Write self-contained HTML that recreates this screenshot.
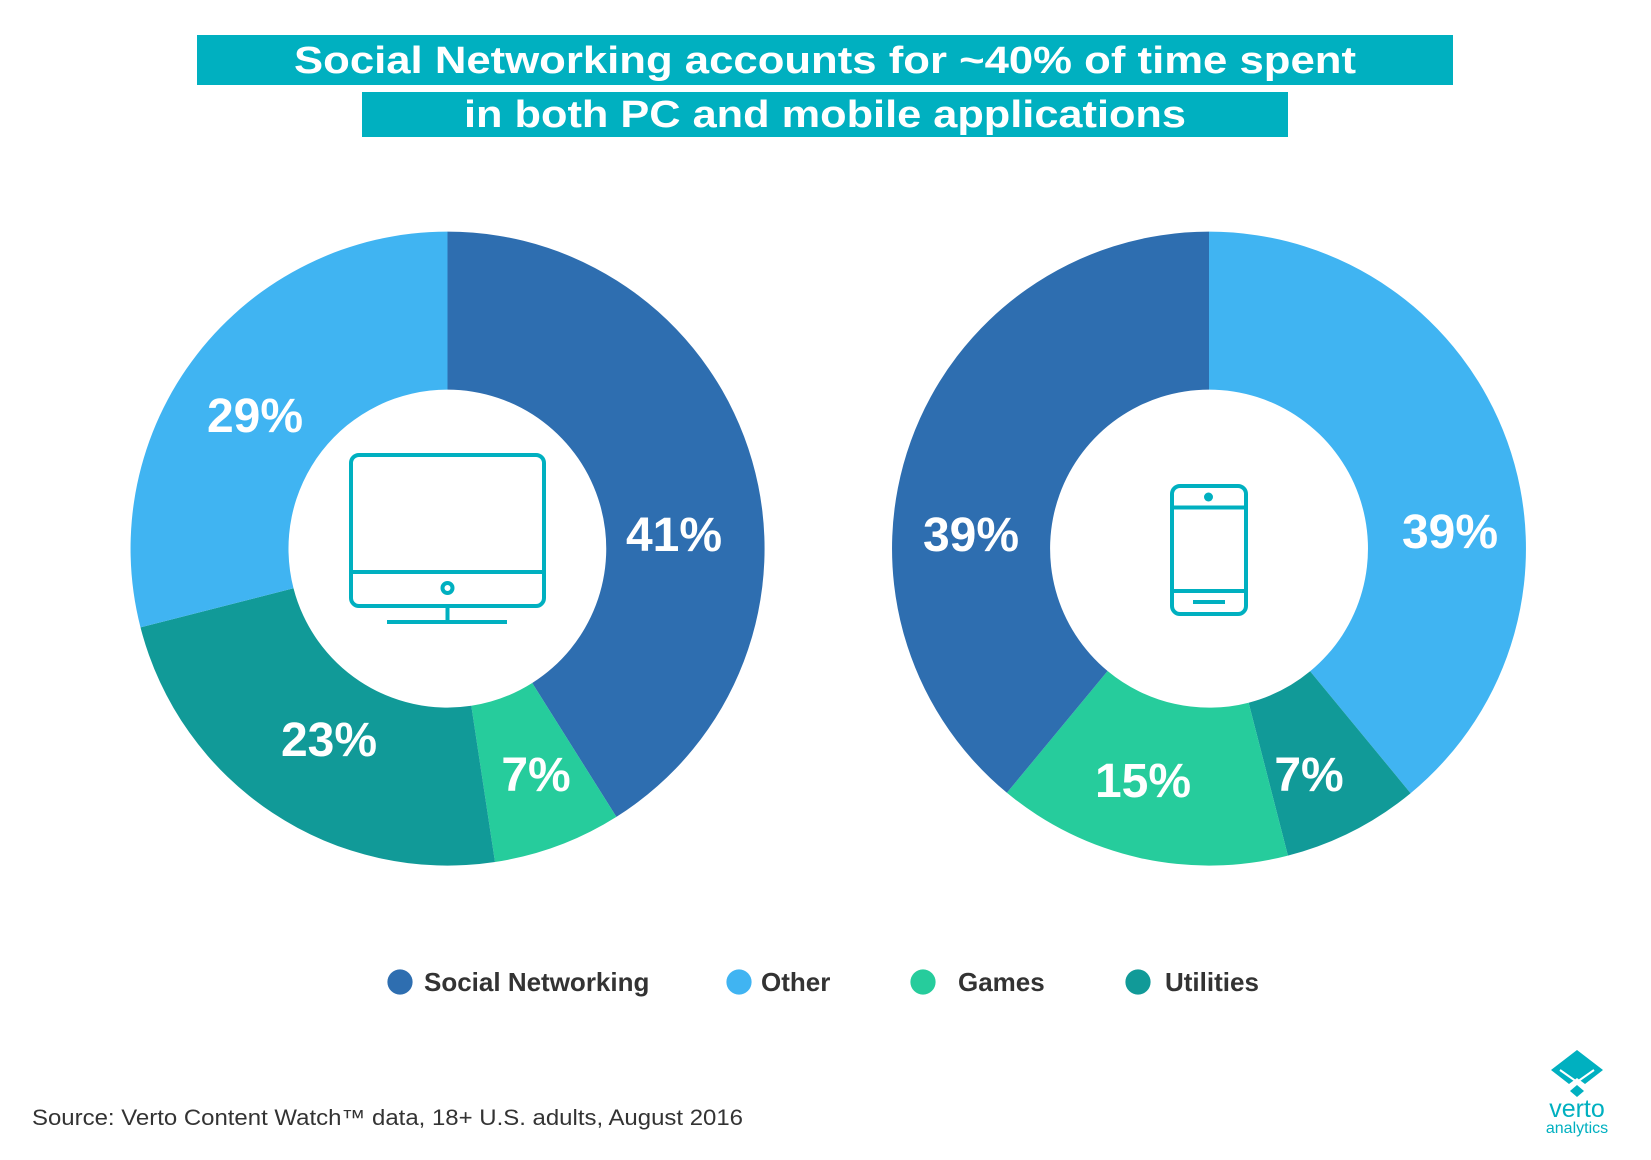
<!DOCTYPE html>
<html><head><meta charset="utf-8"><style>html,body{margin:0;padding:0;background:#fff;}svg{display:block;}</style></head>
<body>
<svg width="1651" height="1160" viewBox="0 0 1651 1160" xmlns="http://www.w3.org/2000/svg" font-family="Liberation Sans, sans-serif">
<rect x="197" y="35" width="1256" height="50" fill="#00b0c0"/>
<rect x="362" y="92" width="926" height="45" fill="#00b0c0"/>
<text x="825" y="73" text-anchor="middle" font-size="38" font-weight="bold" fill="#fff" textLength="1062" lengthAdjust="spacingAndGlyphs">Social Networking accounts for ~40% of time spent</text>
<text x="825" y="127" text-anchor="middle" font-size="38" font-weight="bold" fill="#fff" textLength="722" lengthAdjust="spacingAndGlyphs">in both PC and mobile applications</text>
<g id="donuts"></g>
<!-- left donut -->
<g>
<path d="M447.5,231.6 A317,317 0 0 1 616.4,816.9 L532.2,683.0 A159,159 0 0 0 447.5,389.6 Z" fill="#2e6eb0"/>
<path d="M616.4,816.9 A317,317 0 0 1 495.0,862.0 L471.3,705.8 A159,159 0 0 0 532.2,683.0 Z" fill="#26cc9c"/>
<path d="M495.0,862.0 A317,317 0 0 1 140.5,627.4 L293.5,588.2 A159,159 0 0 0 471.3,705.8 Z" fill="#119a98"/>
<path d="M140.5,627.4 A317,317 0 0 1 447.5,231.6 L447.5,389.6 A159,159 0 0 0 293.5,588.2 Z" fill="#40b4f2"/>
</g>
<!-- right donut -->
<g>
<path d="M1209,231.6 A317,317 0 0 1 1410.6,793.2 L1310.1,671.3 A159,159 0 0 0 1209,389.6 Z" fill="#40b4f2"/>
<path d="M1410.6,793.2 A317,317 0 0 1 1287.9,855.6 L1248.6,702.7 A159,159 0 0 0 1310.1,671.3 Z" fill="#119a98"/>
<path d="M1287.9,855.6 A317,317 0 0 1 1006.9,792.8 L1107.6,671.0 A159,159 0 0 0 1248.6,702.7 Z" fill="#26cc9c"/>
<path d="M1006.9,792.8 A317,317 0 0 1 1209,231.6 L1209,389.6 A159,159 0 0 0 1107.6,671.0 Z" fill="#2e6eb0"/>
</g>
<g font-size="48" font-weight="bold" fill="#fff" text-anchor="middle">
<text x="674" y="551">41%</text>
<text x="255" y="432">29%</text>
<text x="329" y="756">23%</text>
<text x="536" y="791">7%</text>
<text x="971" y="551">39%</text>
<text x="1450" y="548">39%</text>
<text x="1143" y="797">15%</text>
<text x="1309" y="791">7%</text>
</g>
<!-- monitor -->
<g fill="none" stroke="#00b0c0" stroke-width="4">
<rect x="351" y="455" width="193" height="151" rx="8"/>
<line x1="351" y1="572" x2="544" y2="572"/>
<circle cx="447.5" cy="588" r="5"/>
<line x1="447.5" y1="606" x2="447.5" y2="622"/>
<line x1="387" y1="622" x2="507" y2="622"/>
<rect x="1172" y="486" width="74" height="128" rx="8"/>
<line x1="1172" y1="507.5" x2="1246" y2="507.5"/>
<line x1="1172" y1="591" x2="1246" y2="591"/>
<line x1="1193" y1="602" x2="1225" y2="602"/>
</g>
<circle cx="1208.5" cy="497" r="4.5" fill="#00b0c0"/>
<!-- legend -->
<g font-size="26" font-weight="bold" fill="#333">
<circle cx="400" cy="982" r="12.6" fill="#2e6eb0"/><text x="424" y="991">Social Networking</text>
<circle cx="739" cy="982" r="12.6" fill="#40b4f2"/><text x="761" y="991">Other</text>
<circle cx="923" cy="982" r="12.6" fill="#26cc9c"/><text x="958" y="991">Games</text>
<circle cx="1138" cy="982" r="12.6" fill="#119a98"/><text x="1165" y="991">Utilities</text>
</g>
<text x="32" y="1125" font-size="22" fill="#333" textLength="711" lengthAdjust="spacingAndGlyphs">Source: Verto Content Watch™ data, 18+ U.S. adults, August 2016</text>
<!-- logo -->
<g fill="#00b0c0">
<polygon points="1577,1050 1603,1070 1585,1084 1577,1078 1569,1084 1551,1070"/>
<polygon points="1577,1085 1584,1091 1577,1097 1570,1091"/>
<polyline points="1560,1070 1577,1082 1594,1070" fill="none" stroke="#fff" stroke-width="2"/>
<text x="1577" y="1117" font-size="25" text-anchor="middle">verto</text>
<text x="1577" y="1133" font-size="16" text-anchor="middle">analytics</text>
</g>
</svg>
</body></html>
